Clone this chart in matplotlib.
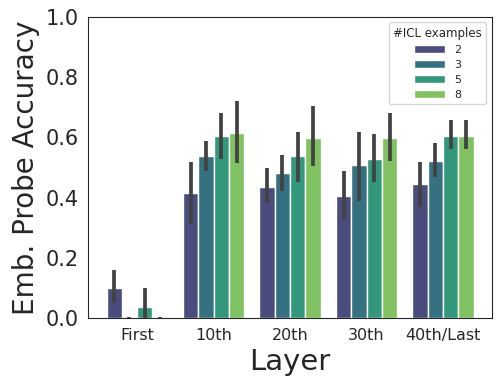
import numpy as np
import pandas as pd
import matplotlib
matplotlib.use("Agg")
import matplotlib.pyplot as plt
import seaborn as sns

# layers and number of in-context examples
layers = ["First", "10th", "20th", "30th", "40th/Last"]
n_examples = ["2", "3", "5", "8"]

# mean accuracy per layer, one list per #ICL examples
acc_2 = [0.100, 0.414, 0.436, 0.406, 0.444]
acc_3 = [0.002, 0.537, 0.483, 0.507, 0.522]
acc_5 = [0.037, 0.606, 0.537, 0.529, 0.606]
acc_8 = [0.002, 0.614, 0.599, 0.599, 0.606]

# confidence interval low / high
lo_2 = [0.051, 0.312, 0.383, 0.329, 0.368]
hi_2 = [0.159, 0.519, 0.497, 0.489, 0.519]
lo_3 = [0.000, 0.489, 0.422, 0.390, 0.467]
hi_3 = [0.005, 0.589, 0.542, 0.619, 0.581]
lo_5 = [0.000, 0.528, 0.453, 0.453, 0.560]
hi_5 = [0.099, 0.682, 0.619, 0.611, 0.658]
lo_8 = [0.000, 0.514, 0.505, 0.522, 0.560]
hi_8 = [0.005, 0.720, 0.704, 0.681, 0.658]

means = [acc_2, acc_3, acc_5, acc_8]
lows = [lo_2, lo_3, lo_5, lo_8]
highs = [hi_2, hi_3, hi_5, hi_8]

rows = []
for k, n in enumerate(n_examples):
    for j, layer in enumerate(layers):
        rows.append({"Layer": layer, "#ICL examples": n, "acc": means[k][j]})
df = pd.DataFrame(rows)

sns.set_style("white")
fig, ax = plt.subplots(figsize=(4.98, 3.85), dpi=100)

sns.barplot(data=df, x="Layer", y="acc", hue="#ICL examples",
            hue_order=n_examples, palette=sns.color_palette("viridis", 4),
            errorbar=None, ax=ax)

# error bars on each bar
for k, cont in enumerate(ax.containers):
    for j, bar in enumerate(cont):
        xc = bar.get_x() + bar.get_width() / 2
        ax.plot([xc, xc], [lows[k][j], highs[k][j]], color=".26",
                linewidth=2.7, solid_capstyle="butt", zorder=3)

for s in ax.spines.values():
    s.set_color(".15")

ax.set_ylim(0, 1.0)
ax.set_yticks(np.arange(0, 1.01, 0.2))
ax.set_yticklabels([f"{v:.1f}" for v in np.arange(0, 1.01, 0.2)], fontsize=15)
ax.tick_params(axis="x", labelsize=11.5)
ax.set_xlabel("Layer", fontsize=21)
ax.set_ylabel("Emb. Probe Accuracy", fontsize=20)

leg = ax.legend(title="#ICL examples", loc="upper right", fontsize=8,
                title_fontsize=8.5, handlelength=2.8, labelspacing=0.45)

plt.subplots_adjust(left=0.177, right=0.988, top=0.956, bottom=0.174)
plt.savefig("out.png", dpi=100)
